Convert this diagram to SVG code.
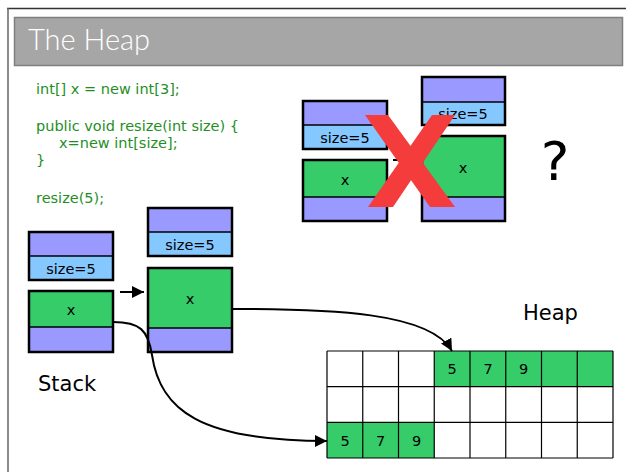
<svg xmlns="http://www.w3.org/2000/svg" width="626" height="472" viewBox="0 0 626 472">
  <style>
    .code { font-family: "DejaVu Sans", sans-serif; font-size: 14.5px; fill: #1f8f1f; }
    .lbl { font-family: "DejaVu Sans", sans-serif; font-size: 14.5px; fill: #000; text-anchor: middle; }
    .big { font-family: "DejaVu Sans", sans-serif; font-size: 21px; fill: #000; }
    .frame { fill: none; stroke: #000; stroke-width: 2.5; }
    .purple { fill: #9999ff; }
    .blue { fill: #85c8ff; }
    .green { fill: #35cc69; }
    .div { stroke: #000; stroke-width: 1.5; }
    .cell { stroke: #000; stroke-width: 1.2; }
    .conn { fill: none; stroke: #000; stroke-width: 2; }
  </style>
  <defs>
    <marker id="arrow" viewBox="0 0 10 10" refX="10" refY="5" markerWidth="6" markerHeight="6" markerUnits="strokeWidth" orient="auto">
      <path d="M0,0 L10,5 L0,10 Z" fill="#000"/>
    </marker>
  </defs>

  <!-- page background and slide frame -->
  <rect width="626" height="472" fill="#fff"/>
  <line x1="7" y1="8.5" x2="626" y2="8.5" stroke="#333" stroke-width="1.5"/>
  <line x1="8" y1="8" x2="8" y2="472" stroke="#666" stroke-width="1.5"/>

  <!-- title bar -->
  <g id="title">
    <rect x="14.5" y="17.5" width="608" height="48" fill="#a6a6a6" stroke="#7f7f7f" stroke-width="1.5"/>
    <text x="28" y="50" font-family="Lato, 'DejaVu Sans', sans-serif" font-weight="300" font-size="29" fill="#fff">The Heap</text>
  </g>

  <!-- source code -->
  <g id="code">
    <text class="code" x="36" y="94">int[] x = new int[3];</text>
    <text class="code" x="36" y="131">public void resize(int size) {</text>
    <text class="code" x="59" y="148">x=new int[size];</text>
    <text class="code" x="36" y="165">}</text>
    <text class="code" x="36" y="203">resize(5);</text>
  </g>

  <!-- stack frames: before call -->
  <g id="frame-size-left">
    <rect class="purple" x="29" y="232" width="84" height="24"/>
    <rect class="blue" x="29" y="256" width="84" height="24"/>
    <line class="div" x1="29" y1="256" x2="113" y2="256"/>
    <rect class="frame" x="29" y="232" width="84" height="48"/>
    <text class="lbl" x="71" y="274">size=5</text>
  </g>
  <g id="frame-x-left">
    <rect class="green" x="29" y="291" width="84" height="36"/>
    <rect class="purple" x="29" y="327" width="84" height="25"/>
    <line class="div" x1="29" y1="327" x2="113" y2="327"/>
    <rect class="frame" x="29" y="291" width="84" height="61"/>
    <text class="lbl" x="71" y="315">x</text>
  </g>

  <!-- stack frames: after call -->
  <g id="frame-size-mid">
    <rect class="purple" x="148" y="208" width="84" height="24"/>
    <rect class="blue" x="148" y="232" width="84" height="24"/>
    <line class="div" x1="148" y1="232" x2="232" y2="232"/>
    <rect class="frame" x="148" y="208" width="84" height="48"/>
    <text class="lbl" x="190" y="250">size=5</text>
  </g>
  <g id="frame-x-mid">
    <rect class="green" x="148" y="268" width="84" height="60"/>
    <rect class="purple" x="148" y="328" width="84" height="24"/>
    <line class="div" x1="148" y1="328" x2="232" y2="328"/>
    <rect class="frame" x="148" y="268" width="84" height="84"/>
    <text class="lbl" x="190" y="304">x</text>
  </g>

  <!-- rejected layout -->
  <g id="alt-size-left">
    <rect class="purple" x="303" y="101" width="84" height="24"/>
    <rect class="blue" x="303" y="125" width="84" height="24"/>
    <line class="div" x1="303" y1="125" x2="387" y2="125"/>
    <rect class="frame" x="303" y="101" width="84" height="48"/>
    <text class="lbl" x="345" y="143">size=5</text>
  </g>
  <g id="alt-x-left">
    <rect class="green" x="303" y="160" width="84" height="37"/>
    <rect class="purple" x="303" y="197" width="84" height="24"/>
    <line class="div" x1="303" y1="197" x2="387" y2="197"/>
    <rect class="frame" x="303" y="160" width="84" height="61"/>
    <text class="lbl" x="345" y="185">x</text>
  </g>
  <g id="alt-size-right">
    <rect class="purple" x="422" y="77" width="83" height="25"/>
    <rect class="blue" x="422" y="102" width="83" height="23"/>
    <line class="div" x1="422" y1="102" x2="505" y2="102"/>
    <rect class="frame" x="422" y="77" width="83" height="48"/>
    <text class="lbl" x="463" y="119">size=5</text>
  </g>
  <g id="alt-x-right">
    <rect class="green" x="422" y="136" width="83" height="61"/>
    <rect class="purple" x="422" y="197" width="83" height="24"/>
    <line class="div" x1="422" y1="197" x2="505" y2="197"/>
    <rect class="frame" x="422" y="136" width="83" height="85"/>
    <text class="lbl" x="463" y="173">x</text>
  </g>

  <!-- heap grid -->
  <g id="heap">
    <rect x="327" y="351" width="286" height="107" fill="#fff"/>
    <rect class="green" x="434.25" y="351" width="178.75" height="35.7"/>
    <rect class="green" x="327" y="422.3" width="107.25" height="35.7"/>
    <g class="cell">
      <line x1="327" y1="351" x2="613" y2="351"/>
      <line x1="327" y1="386.7" x2="613" y2="386.7"/>
      <line x1="327" y1="422.3" x2="613" y2="422.3"/>
      <line x1="327" y1="458" x2="613" y2="458"/>
      <line x1="327" y1="351" x2="327" y2="458"/>
      <line x1="362.75" y1="351" x2="362.75" y2="458"/>
      <line x1="398.5" y1="351" x2="398.5" y2="458"/>
      <line x1="434.25" y1="351" x2="434.25" y2="458"/>
      <line x1="470" y1="351" x2="470" y2="458"/>
      <line x1="505.75" y1="351" x2="505.75" y2="458"/>
      <line x1="541.5" y1="351" x2="541.5" y2="458"/>
      <line x1="577.25" y1="351" x2="577.25" y2="458"/>
      <line x1="613" y1="351" x2="613" y2="458"/>
    </g>
    <text class="lbl" x="452" y="374">5</text>
    <text class="lbl" x="488" y="374">7</text>
    <text class="lbl" x="523.5" y="374">9</text>
    <text class="lbl" x="345" y="446">5</text>
    <text class="lbl" x="380.5" y="446">7</text>
    <text class="lbl" x="416.5" y="446">9</text>
  </g>

  <!-- connectors -->
  <g id="connectors">
    <line class="conn" x1="120" y1="292" x2="144" y2="292" marker-end="url(#arrow)"/>
    <line class="conn" x1="393" y1="160" x2="417" y2="160" marker-end="url(#arrow)"/>
    <path class="conn" d="M233,309 C330,309 430,312 452,351" marker-end="url(#arrow)"/>
    <path class="conn" d="M113,322 C140,322 148,330 152,355 C160,410 200,441 327,441" marker-end="url(#arrow)"/>
  </g>

  <!-- cross-out mark -->
  <g id="cross" fill="#f53c3c">
    <polygon points="365,115 388,115 455,207 430,207"/>
    <polygon points="432,115 455,115 393,207 368,207"/>
  </g>

  <!-- labels -->
  <text x="555" y="180" font-family="'DejaVu Sans', sans-serif" font-size="54" text-anchor="middle">?</text>
  <text class="big" x="523" y="320">Heap</text>
  <text class="big" x="38" y="391">Stack</text>
</svg>
